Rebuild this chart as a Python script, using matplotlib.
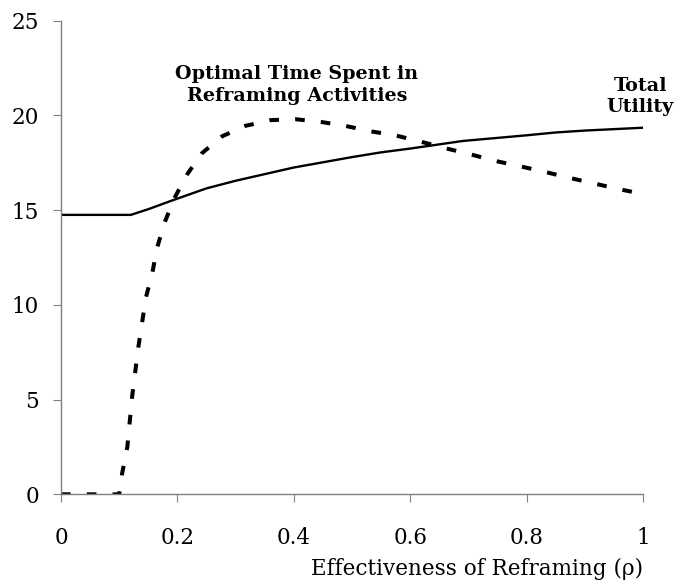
import numpy as np
import matplotlib.pyplot as plt

# effectiveness of reframing (rho) and total utility
rho_util = [0.0, 0.05, 0.10, 0.12, 0.15, 0.19, 0.25, 0.30, 0.40, 0.50, 0.55, 0.60, 0.69, 0.80, 0.85, 0.90, 1.00]
utility = [14.75, 14.75, 14.75, 14.75, 15.05, 15.5, 16.15, 16.55, 17.25, 17.8, 18.05, 18.25, 18.65, 18.95, 19.1, 19.2, 19.35]

# optimal time spent in reframing activities
rho_time = [0.0, 0.05, 0.10, 0.105, 0.114, 0.122, 0.133, 0.146, 0.157, 0.165, 0.178, 0.196, 0.217,
            0.242, 0.277, 0.317, 0.36, 0.403, 0.448, 0.488, 0.534, 0.574, 0.62, 0.663, 0.703,
            0.746, 0.791, 0.834, 0.874, 0.917, 0.96, 1.0]
time_spent = [0.0, 0.0, 0.0, 1.1, 2.5, 5.1, 7.8, 10.4, 11.7, 13.0, 14.35, 15.7, 16.9,
              18.0, 18.9, 19.45, 19.75, 19.8, 19.65, 19.45, 19.15, 18.95, 18.6, 18.25, 17.95,
              17.6, 17.3, 17.0, 16.7, 16.4, 16.1, 15.85]

plt.rcParams['font.family'] = ['DejaVu Serif']

fig = plt.figure(figsize=(6.77, 5.81), dpi=100)
ax = fig.add_axes([0.0901, 0.1492, 0.8597, 0.8152])

ax.plot(rho_util, utility, color='black', lw=1.7)
ax.plot(rho_time, time_spent, color='black', lw=2.9, dashes=(2.4, 4.0))

ax.set_xlim(0, 1)
ax.set_ylim(0, 25)
ax.set_xticks([0, 0.2, 0.4, 0.6, 0.8, 1])
ax.set_xticklabels(['0', '0.2', '0.4', '0.6', '0.8', '1'])
ax.set_yticks([0, 5, 10, 15, 20, 25])

for s in ['top', 'right']:
    ax.spines[s].set_visible(False)
for s in ['left', 'bottom']:
    ax.spines[s].set_color('#808080')
    ax.spines[s].set_linewidth(1.0)
ax.tick_params(axis='both', direction='out', length=5.8, color='#808080', labelsize=15.5)
ax.tick_params(axis='y', pad=10)
ax.tick_params(axis='x', pad=18)

ax.set_xlabel('Effectiveness of Reframing (ρ)', fontsize=15.5, loc='right')
ax.xaxis.set_label_coords(1.0, -0.134)

ax.text(0.405, 20.77, 'Optimal Time Spent in\nReframing Activities', ha='center', va='baseline',
        fontsize=13.8, fontweight='bold', linespacing=1.25)
ax.text(0.995, 20.18, 'Total\nUtility', ha='center', va='baseline',
        fontsize=13.8, fontweight='bold', linespacing=1.2)

fig.savefig('out.png', dpi=100)
